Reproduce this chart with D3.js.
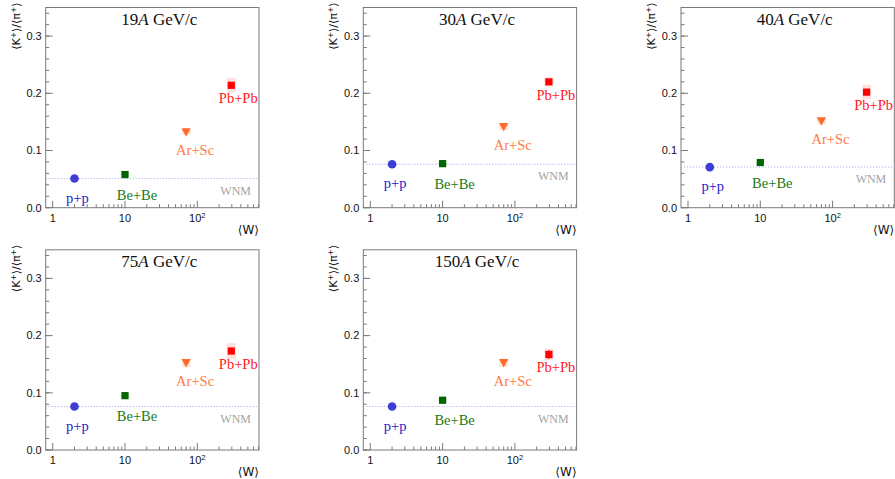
<!DOCTYPE html>
<html>
<head>
<meta charset="utf-8">
<style>
body { margin:0; background:#fff; }
svg { display:block; }
</style>
</head>
<body>
<svg width="895" height="479"></svg>
<script src="https://cdn.jsdelivr.net/npm/d3@7"></script>
<script>

// beam momenta (one panel each)
var energies = ['19', '30', '40', '75', '150']
var systems = ['p+p', 'Be+Be', 'Ar+Sc', 'Pb+Pb']
var wValues = [2, 10, 70, 295]

// <K+>/<pi+>, per energy, order as systems
var ratio19  = [0.051, 0.058, 0.132, 0.214]
var ratio30  = [0.076, 0.077, 0.141, 0.220]
var ratio40  = [0.071, 0.079, 0.151, 0.202]
var ratio75  = [0.076, 0.095, 0.152, 0.173]
var ratio150 = [0.076, 0.087, 0.152, 0.167]

// systematic (box) and statistical (bar) errors
var sys19  = [0.002, 0.002, 0.004, 0.013]
var sys30  = [0.002, 0.002, 0.005, 0.008]
var sys40  = [0.003, 0.002, 0.005, 0.013]
var sys75  = [0.002, 0.002, 0.007, 0.014]
var sys150 = [0.002, 0.002, 0.007, 0.010]
var stat150 = [0.001, 0.001, 0.002, 0.008]

var yTicks = [0, 0.1, 0.2, 0.3]
var yTickLabels = ['0.0', '0.1', '0.2', '0.3']
var xTicks = [1, 10, 100]

var ratios = [ratio19, ratio30, ratio40, ratio75, ratio150]
var sysErr = [sys19, sys30, sys40, sys75, sys150]
var statErr = [null, null, null, null, stat150]

var markerColor = ['#3d3dd6', '#006400', '#ff6a2b', '#ff0000']
var labelColor  = ['#2222cc', '#1a7a1a', '#ff7a45', '#ff1a1a']
var boxColor    = ['rgba(120,120,200,0.15)', 'rgba(0,100,0,0.12)', 'rgba(255,106,43,0.18)', 'rgba(255,0,0,0.13)']
// label offset from marker, px
var labelDx = [3, 12, 9, 7],
	labelDy = [24, 25, 23, 18]

var lefts = [45.7, 363.3, 681, 45.7, 363.3],
	tops = [7.5, 7.5, 7.5, 249.8, 249.8],
	pw = 213.3,
	ph = 200.2

var svg = d3.select('svg')

var x = d3.scaleLog().domain([0.8, 713]).range([0, pw])
var y = d3.scaleLinear().domain([0, 0.35]).range([ph, 0])

var frameCol = '#7a7a7a'
var serif = '"Liberation Serif", "Times New Roman", serif'
var sans = '"Liberation Sans", Arial, sans-serif'

function drawPanel(p) {
	var g = svg.append('g').attr('transform', 'translate(' + lefts[p] + ',' + tops[p] + ')')
	var vals = ratios[p]

	// frame
	g.append('rect')
		.attr('x', 0).attr('y', 0).attr('width', pw).attr('height', ph)
		.style('fill', 'none').style('stroke', frameCol).style('stroke-width', 1)

	// y ticks, minor every 0.02
	var yMinor = d3.range(0, 0.351, 0.02)
	g.selectAll('.ymin').data(yMinor).enter().append('line')
		.attr('x1', 0).attr('x2', 3.5)
		.attr('y1', function(d) { return y(d) }).attr('y2', function(d) { return y(d) })
		.style('stroke', frameCol)
	g.selectAll('.ymaj').data(yTicks).enter().append('line')
		.attr('x1', 0).attr('x2', 7)
		.attr('y1', function(d) { return y(d) }).attr('y2', function(d) { return y(d) })
		.style('stroke', frameCol)
	g.selectAll('.ylab').data(yTicks).enter().append('text')
		.attr('x', -4).attr('y', function(d) { return y(d) + 3.8 })
		.attr('text-anchor', 'end')
		.style('font-family', sans).style('font-size', '11px')
		.style('fill', '#111')
		.text(function(d, i) { return yTickLabels[i] })

	// x ticks, log minor
	var xMinor = []
	;[1, 10, 100].forEach(function(dec) {
		for (var k = 2; k <= 9; k++) if (dec * k <= 713) xMinor.push(dec * k)
	})
	g.selectAll('.xmin').data(xMinor).enter().append('line')
		.attr('x1', function(d) { return x(d) }).attr('x2', function(d) { return x(d) })
		.attr('y1', ph).attr('y2', ph - 3.5)
		.style('stroke', frameCol)
	g.selectAll('.xmaj').data(xTicks).enter().append('line')
		.attr('x1', function(d) { return x(d) }).attr('x2', function(d) { return x(d) })
		.attr('y1', ph).attr('y2', ph - 7)
		.style('stroke', frameCol)
	var xl = g.selectAll('.xlab').data(xTicks).enter().append('text')
		.attr('x', function(d) { return x(d) }).attr('y', ph + 14.5)
		.attr('text-anchor', 'middle')
		.style('font-family', sans).style('font-size', '11px')
		.style('fill', '#111')
	xl.each(function(d) {
		var t = d3.select(this)
		if (d == 100) {
			t.append('tspan').text('10')
			t.append('tspan').attr('dy', -4.5).style('font-size', '7.5px').text('2')
		} else {
			t.text(d)
		}
	})

	// axis titles
	g.append('text')
		.attr('x', pw).attr('y', ph + 26.5)
		.attr('text-anchor', 'end')
		.style('font-family', 'DejaVu Sans, sans-serif').style('font-size', '12px')
		.style('fill', '#111')
		.text('\u27E8W\u27E9')

	var yt = g.append('text')
		.attr('transform', 'translate(-26,-5) rotate(-90)')
		.attr('text-anchor', 'end')
		.style('font-family', 'DejaVu Sans, sans-serif').style('font-size', '11px')
		.style('fill', '#111')
	yt.append('tspan').text('\u27E8K')
	yt.append('tspan').attr('dy', -4).style('font-size', '7.5px').text('+')
	yt.append('tspan').attr('dy', 4).text('\u27E9/\u27E8\u03C0')
	yt.append('tspan').attr('dy', -4).style('font-size', '7.5px').text('+')
	yt.append('tspan').attr('dy', 4).text('\u27E9')

	// panel title
	var tt = g.append('text')
		.attr('x', pw / 2 + 7).attr('y', 17.5)
		.attr('text-anchor', 'middle')
		.style('font-family', serif).style('font-size', '17px')
		.style('fill', '#111')
	tt.append('tspan').text(energies[p])
	tt.append('tspan').style('font-style', 'italic').text('A')
	tt.append('tspan').text(' GeV/c')

	// WNM reference line at p+p value
	g.append('line')
		.attr('x1', 0).attr('x2', pw)
		.attr('y1', y(vals[0])).attr('y2', y(vals[0]))
		.style('stroke', '#9c9ce8').style('stroke-width', 0.8)
		.style('stroke-dasharray', '1.2,1.8')
	g.append('text')
		.attr('x', pw - 8).attr('y', y(vals[0]) + 16)
		.attr('text-anchor', 'end')
		.style('font-family', serif).style('font-size', '12px')
		.style('fill', '#a3a3a3')
		.text('WNM')

	// systematic boxes
	g.selectAll('.sys').data(vals).enter().append('rect')
		.attr('x', function(d, i) { return x(wValues[i]) - 4.5 })
		.attr('width', 9)
		.attr('y', function(d, i) { return y(d + sysErr[p][i]) })
		.attr('height', function(d, i) { return y(d - sysErr[p][i]) - y(d + sysErr[p][i]) })
		.style('fill', function(d, i) { return boxColor[i] })

	// stat bars
	if (statErr[p]) {
		g.selectAll('.stat').data(vals).enter().append('line')
			.attr('x1', function(d, i) { return x(wValues[i]) })
			.attr('x2', function(d, i) { return x(wValues[i]) })
			.attr('y1', function(d, i) { return y(d + statErr[p][i]) })
			.attr('y2', function(d, i) { return y(d - statErr[p][i]) })
			.style('stroke', function(d, i) { return markerColor[i] }).style('stroke-width', 1)
	}

	// markers
	vals.forEach(function(v, i) {
		var cx = x(wValues[i]), cy = y(v)
		if (i == 0) {
			g.append('circle').attr('cx', cx).attr('cy', cy).attr('r', 4.3)
				.style('fill', markerColor[i])
		} else if (i == 2) {
			g.append('path')
				.attr('d', 'M' + (cx - 4.6) + ',' + (cy - 4) + 'L' + (cx + 4.6) + ',' + (cy - 4) + 'L' + cx + ',' + (cy + 4.5) + 'Z')
				.style('fill', markerColor[i])
		} else {
			g.append('rect').attr('x', cx - 3.6).attr('y', cy - 3.6).attr('width', 7.2).attr('height', 7.2)
				.style('fill', markerColor[i])
		}
		g.append('text')
			.attr('x', cx + labelDx[i]).attr('y', cy + labelDy[i])
			.attr('text-anchor', 'middle')
			.style('font-family', serif).style('font-size', '14.5px')
			.style('fill', labelColor[i])
			.text(systems[i])
	})
}

for (var p = 0; p < energies.length; p++) drawPanel(p)

</script>
</body>
</html>
